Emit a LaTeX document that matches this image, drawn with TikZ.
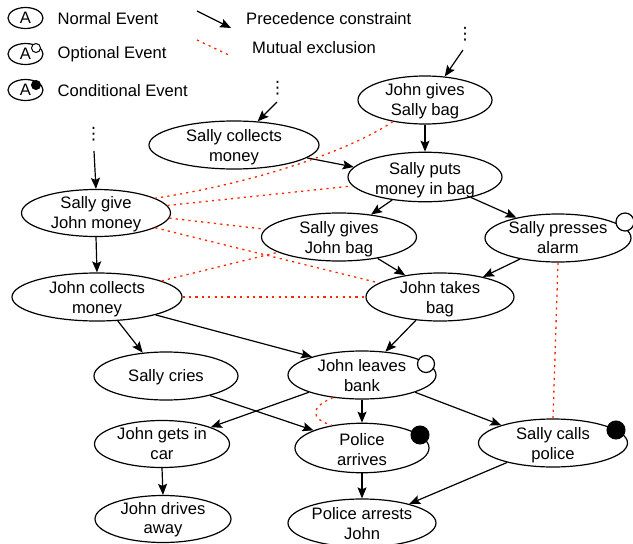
\documentclass[tikz,border=0pt]{standalone}
\usepackage{fontspec}
\setmainfont{Liberation Sans}
\newfontfamily\symfont{DejaVu Sans}
\usetikzlibrary{arrows.meta,shapes.geometric}
\definecolor{mx}{RGB}{255,38,0}
\tikzset{
  ev/.style={draw=black,ellipse,fill=white,line width=1.2pt,inner sep=0pt,align=center,text height=33pt,text depth=0pt,font=\fontsize{16.6}{19.6}\selectfont},
  one/.style={text height=11.5pt,text depth=0pt},
  leg/.style={draw=black,ellipse,line width=1.2pt,inner sep=0pt,minimum width=35pt,minimum height=21pt,text height=11.5pt,text depth=0pt,font=\fontsize{16.6}{20}\selectfont},
  lab/.style={anchor=west,inner sep=0pt,font=\fontsize{16.6}{20}\selectfont},
  prec/.style={-{Stealth[length=11pt,width=9pt,inset=2pt]},line width=1.2pt,black},
  mutex/.style={draw=mx,line width=1.3pt,dash pattern=on 2.2pt off 4.2pt},
  opt/.style={circle,draw=black,fill=white,line width=1.2pt,inner sep=0pt},
  cond/.style={circle,draw=black,fill=black,line width=1pt,inner sep=0pt},
  more/.style={inner sep=0pt,font=\symfont\fontsize{17}{17}\selectfont}
}
\begin{document}
\begin{tikzpicture}[x=1pt,y=-1pt]
\useasboundingbox (0,0) rectangle (633,544);
% legend
\node[leg] (l1) at (25.5,18) {A};
\node[leg] (l2) at (25.5,54) {A};
\node[leg] (l3) at (25.5,90) {A};
\node[opt,minimum size=9pt,line width=1pt] (l2c) at (36,48) {};
\node[cond,minimum size=9pt] (l3c) at (36,85) {};
\node[lab] (t1) at (57.5,18.7) {Normal Event};
\node[lab] (t2) at (57.5,54.7) {Optional Event};
\node[lab] (t3) at (57.5,90.7) {Conditional Event};
\node[lab] (t4) at (246,18.7) {Precedence constraint};
\node[lab] (t5) at (252,47.7) {Mutual exclusion};
\coordinate (pa) at (197,11); \coordinate (pb) at (231,28);
\coordinate (ma) at (197,40); \coordinate (mb) at (231,56);
\draw[prec] (pa) -- (pb);
\draw[mutex] (ma) -- (mb);
% events
\node[ev,text height=31pt,minimum width=134pt,minimum height=48pt] (jgb) at (425,100) {John gives\\Sally bag};
\node[ev,minimum width=170pt,minimum height=48pt] (scm) at (234,145) {Sally collects\\money};
\node[ev,text height=35pt,minimum width=154pt,minimum height=48pt] (spm) at (425,177) {Sally puts\\money in bag};
\node[ev,minimum width=155pt,minimum height=48pt] (sgb) at (339,237) {Sally gives\\John bag};
\node[ev,text height=31pt,minimum width=146pt,minimum height=48pt] (spa) at (558,238) {Sally presses\\alarm};
\node[ev,text height=31pt,minimum width=149pt,minimum height=47pt] (sgm) at (96,213) {Sally give\\John money};
\node[ev,minimum width=170pt,minimum height=48pt] (jcm) at (97,297) {John collects\\money};
\node[ev,minimum width=148pt,minimum height=48pt] (jtb) at (440,297) {John takes\\bag};
\node[ev,minimum width=148pt,minimum height=48pt] (jlb) at (362,375) {John leaves\\bank};
\node[ev,one,minimum width=144pt,minimum height=48pt] (scr) at (166,376) {Sally cries};
\node[ev,text height=31pt,minimum width=135pt,minimum height=47pt] (jgc) at (162,444) {John gets in\\car};
\node[ev,text height=35pt,minimum width=134pt,minimum height=48pt] (par) at (362,448) {Police\\arrives};
\node[ev,minimum width=149pt,minimum height=48pt] (scp) at (553,443) {Sally calls\\police};
\node[ev,text height=29.5pt,minimum width=136pt,minimum height=47pt] (jda) at (163,519) {John drives\\away};
\node[ev,minimum width=148pt,minimum height=48pt] (pac) at (362,523) {Police arrests\\John};
% markers
\node[opt,minimum size=17pt] (o1) at (426,364) {};
\node[opt,minimum size=18pt] (o2) at (625,222) {};
\node[cond,minimum size=18pt] (c1) at (420,435) {};
\node[cond,minimum size=18pt] (c2) at (616,430) {};
% elided predecessors
\node[more] (d1) at (465,34) {⋮};
\node[more] (d2) at (277.5,88) {⋮};
\node[more] (d3) at (93.5,134) {⋮};
\coordinate (s1) at (463,50); \coordinate (s2) at (277,102); \coordinate (s3) at (94,151);
% precedence
\draw[prec] (s1) -- (jgb.50);
\draw[prec] (s2) -- (scm.45);
\draw[prec] (s3) -- (sgm.north);
\draw[prec] (jgb.south) -- (spm.north);
\draw[prec] (scm.-10) -- (spm.172.6);
\draw[prec] (spm.215.7) -- (sgb.35);
\draw[prec] (spm.-24) -- (spa.154);
\draw[prec] (sgb.-29) -- (jtb.148);
\draw[prec] (spa.209.6) -- (jtb.25.5);
\draw[prec] (sgm.south) -- (jcm.north);
\draw[prec] (jcm.-49) -- (scr.135);
\draw[prec] (jcm.-17) -- (jlb.160.7);
\draw[prec] (jtb.224) -- (jlb.45);
\draw[prec] (jlb.198) -- (jgc.19);
\draw[prec] (scr.-24) -- (par.160);
\draw[prec] (jlb.south) -- (par.north);
\draw[prec] (jlb.-18) -- (scp.161);
\draw[prec] (jgc.south) -- (jda.north);
\draw[prec] (par.south) -- (pac.north);
\draw[prec] (scp.203) -- (pac.22);
% mutual exclusion
\draw[mutex] (jgb.214.5) .. controls (350,150) and (260,182) .. (sgm.14);
\draw[mutex] (sgm.6) -- (spm.187);
\draw[mutex] (sgm.-4.5) -- (sgb.174);
\draw[mutex] (sgm.-14) -- (jtb.167.5);
\draw[mutex] (jcm.14) -- (sgb.194);
\draw[mutex] (jcm.east) -- (jtb.west);
\draw[mutex] (spa.south) -- (scp.north);
\draw[mutex] (jlb.218.7) .. controls (310,407) and (310,419) .. (par.143);
\end{tikzpicture}
\end{document}
